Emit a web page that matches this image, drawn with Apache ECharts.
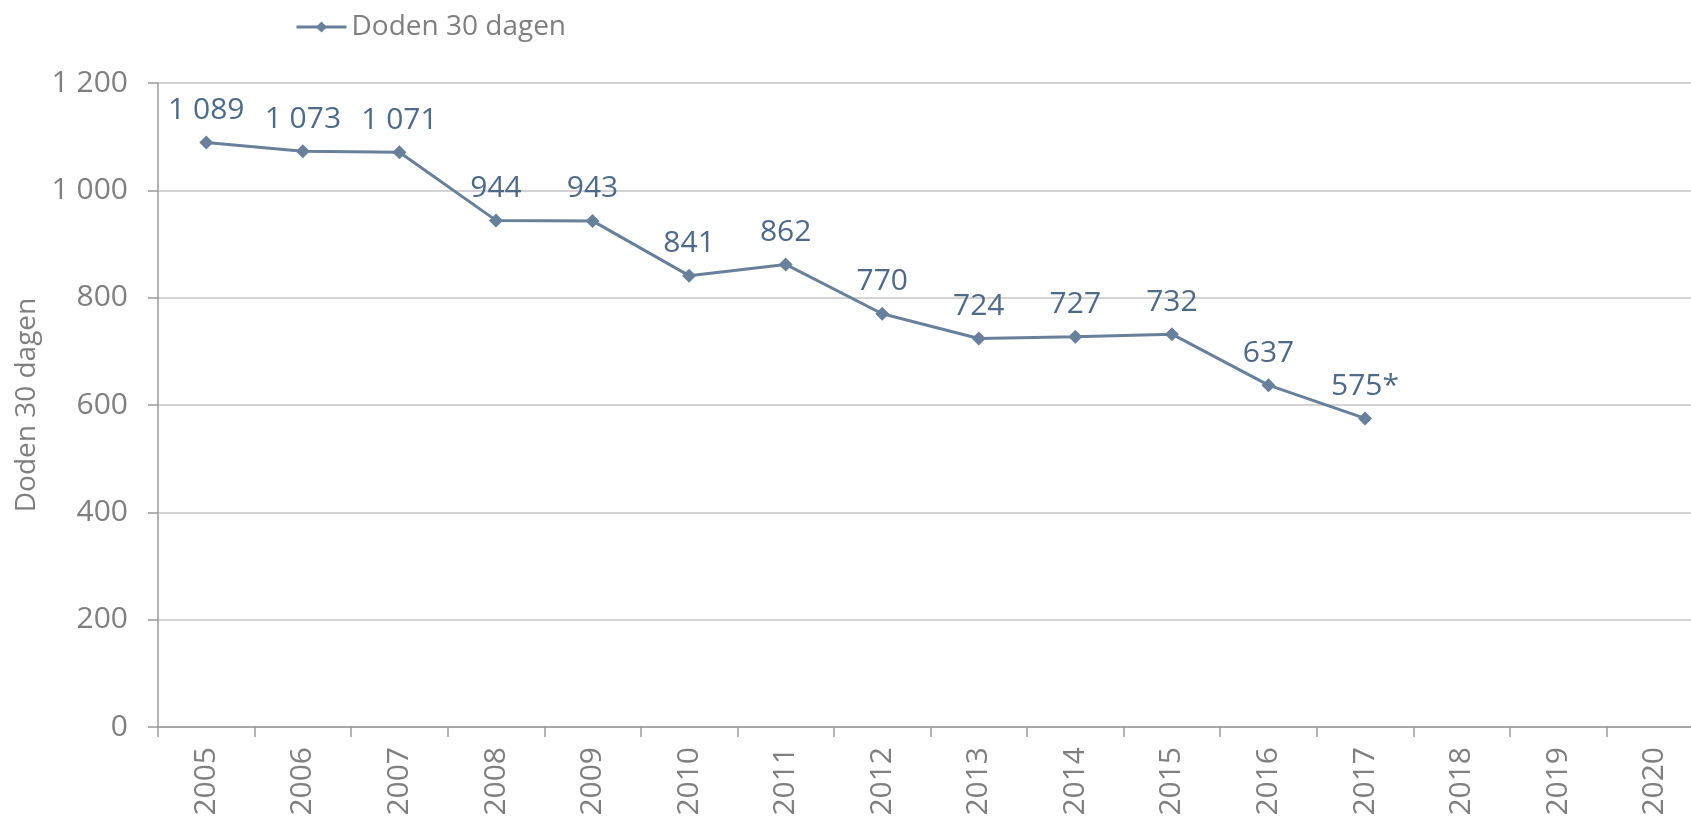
<!DOCTYPE html>
<html>
<head>
<meta charset="utf-8">
<script src="https://cdn.jsdelivr.net/npm/echarts@6/dist/echarts.min.js"></script>
<style>
  html, body { margin: 0; padding: 0; background: #fff; }
  #chart { width: 1691px; height: 816px; }
</style>
</head>
<body>
<div id="chart"></div>
<script>
// jaren op de x-as
var years = ['2005', '2006', '2007', '2008', '2009', '2010', '2011', '2012',
             '2013', '2014', '2015', '2016', '2017', '2018', '2019', '2020']
// verkeersdoden binnen 30 dagen
var deaths = [1089, 1073, 1071, 944, 943, 841, 862, 770, 724, 727, 732, 637, 575,
              null, null, null]
// voorlopige cijfers krijgen een sterretje
var provisional = ['2017']
var seriesName = 'Doden 30 dagen'

function fmt(v) {
    return String(v).replace(/\B(?=(\d{3})+(?!\d))/g, ' ')
}

var font = '"Open Sans", "Noto Sans", sans-serif'
var grey = '#7f7f7f'
var lineColor = '#68809a'

var chart = echarts.init(document.getElementById('chart'))

var option = {
    animation: false,
    textStyle: { fontFamily: font },
    legend: {
        left: 290,
        top: 8,
        itemWidth: 50,
        itemHeight: 14,
        itemGap: 6,
        lineStyle: { width: 3, color: lineColor },
        textStyle: { color: grey, fontSize: 28, fontFamily: font },
        data: [seriesName]
    },
    grid: {
        left: 158,
        top: 83,
        width: 1545,
        bottom: 89,
        containLabel: false,
        outerBoundsMode: 'none'
    },
    xAxis: {
        type: 'category',
        data: years,
        boundaryGap: true,
        axisLine: { lineStyle: { color: '#9a9a9a', width: 1.5 } },
        axisTick: { show: true, length: 10, alignWithLabel: false, lineStyle: { color: '#9a9a9a', width: 1.5 } },
        axisLabel: {
            rotate: 90,
            margin: 20,
            color: grey,
            fontSize: 30,
            fontFamily: font
        },
        splitLine: { show: false }
    },
    yAxis: {
        type: 'value',
        min: 0,
        max: 1200,
        interval: 200,
        name: seriesName,
        nameLocation: 'middle',
        nameGap: 114,
        nameRotate: 90,
        nameTextStyle: { color: grey, fontSize: 28, fontFamily: font },
        axisLine: { show: true, lineStyle: { color: '#9a9a9a', width: 1.5 } },
        axisTick: { show: true, length: 10, lineStyle: { color: '#9a9a9a', width: 1.5 } },
        axisLabel: {
            margin: 30,
            color: grey,
            fontSize: 30,
            fontFamily: font,
            formatter: function (v) { return fmt(v) }
        },
        splitLine: { show: true, lineStyle: { color: '#c4c4c4', width: 1.5 } }
    },
    series: [{
        name: seriesName,
        type: 'line',
        data: deaths,
        symbol: 'diamond',
        symbolSize: 14,
        showSymbol: true,
        connectNulls: false,
        lineStyle: { color: lineColor, width: 3 },
        itemStyle: { color: lineColor },
        label: {
            show: true,
            position: 'top',
            distance: 10,
            color: '#4f6a87',
            fontSize: 30,
            fontFamily: font,
            formatter: function (p) {
                var s = fmt(p.value)
                if (provisional.indexOf(p.name) >= 0) s += '*'
                return s
            }
        }
    }]
}

chart.setOption(option)
</script>
</body>
</html>
